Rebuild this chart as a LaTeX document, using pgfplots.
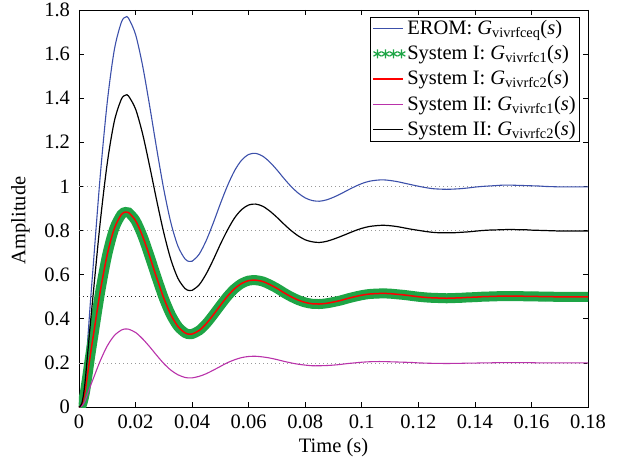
\documentclass[border=0pt]{standalone}
\usepackage{fontspec}
\setmainfont{Liberation Serif}
\usepackage{pgfplots}
\pgfplotsset{compat=1.18}
\usepackage{pgfplotstable}
\definecolor{mblue}{RGB}{60,80,170}
\definecolor{mgreen}{RGB}{30,165,70}
\definecolor{mred}{RGB}{255,0,0}
\definecolor{mmag}{RGB}{185,50,170}
\newcommand{\fsz}{\fontsize{20.5}{24}\selectfont}
\pgfplotsset{
  linelegend/.style={legend image code/.code={\draw[##1] (0pt,0pt) -- (30pt,0pt);}},
  starlegend/.style={legend image code/.code={\draw[##1] plot[only marks] coordinates {(4pt,0pt) (12pt,0pt) (20pt,0pt) (28pt,0pt)};}},
}

% t, EROM, System II c2, System I c1/c2, System II c1
\pgfplotstableread{
t g k h m
0 0 0 0 0
0.001 0.02 0.016 0.01 0.004
0.002 0.12 0.096 0.06 0.024
0.003 0.29 0.232 0.145 0.058
0.004 0.47 0.376 0.235 0.094
0.005 0.636 0.509 0.318 0.127
0.0075 1.046 0.837 0.523 0.209
0.010 1.383 1.106 0.692 0.277
0.0125 1.620 1.296 0.810 0.324
0.015 1.745 1.396 0.873 0.349
0.0165 1.768 1.414 0.884 0.354
0.0175 1.763 1.410 0.882 0.353
0.020 1.689 1.351 0.845 0.338
0.0225 1.547 1.238 0.774 0.309
0.025 1.364 1.091 0.682 0.273
0.0275 1.169 0.935 0.585 0.234
0.030 0.986 0.789 0.493 0.197
0.0325 0.835 0.668 0.418 0.167
0.035 0.729 0.583 0.365 0.146
0.0375 0.671 0.537 0.336 0.134
0.039 0.660 0.528 0.330 0.132
0.040 0.661 0.529 0.331 0.132
0.0425 0.693 0.554 0.347 0.139
0.045 0.755 0.604 0.378 0.151
0.0475 0.835 0.668 0.418 0.167
0.050 0.922 0.738 0.461 0.184
0.0525 1.003 0.802 0.502 0.201
0.055 1.071 0.857 0.536 0.214
0.0575 1.119 0.895 0.560 0.224
0.060 1.145 0.916 0.573 0.229
0.0625 1.150 0.920 0.575 0.230
0.065 1.137 0.910 0.569 0.227
0.0675 1.110 0.888 0.555 0.222
0.070 1.075 0.860 0.538 0.215
0.0725 1.036 0.829 0.518 0.207
0.075 1.000 0.800 0.500 0.200
0.0775 0.970 0.776 0.485 0.194
0.080 0.948 0.758 0.474 0.190
0.0825 0.936 0.749 0.468 0.187
0.085 0.933 0.746 0.467 0.187
0.0875 0.939 0.751 0.470 0.188
0.090 0.951 0.761 0.476 0.190
0.0925 0.966 0.773 0.483 0.193
0.095 0.983 0.786 0.492 0.197
0.0975 0.999 0.799 0.500 0.200
0.100 1.013 0.810 0.507 0.203
0.1025 1.023 0.818 0.512 0.205
0.105 1.028 0.822 0.514 0.206
0.1075 1.030 0.824 0.515 0.206
0.110 1.027 0.822 0.514 0.205
0.1125 1.022 0.818 0.511 0.204
0.115 1.015 0.812 0.508 0.203
0.1175 1.008 0.806 0.504 0.202
0.120 1.001 0.801 0.500 0.200
0.1225 0.995 0.796 0.497 0.199
0.125 0.990 0.792 0.495 0.198
0.1275 0.988 0.790 0.494 0.198
0.130 0.987 0.790 0.493 0.197
0.1325 0.988 0.790 0.494 0.198
0.135 0.990 0.792 0.495 0.198
0.1375 0.993 0.794 0.497 0.199
0.140 0.997 0.797 0.498 0.199
0.1425 1.000 0.800 0.500 0.200
0.145 1.002 0.802 0.501 0.200
0.1475 1.004 0.803 0.502 0.201
0.150 1.006 0.804 0.503 0.201
0.1525 1.006 0.805 0.503 0.201
0.155 1.005 0.804 0.503 0.201
0.1575 1.004 0.804 0.502 0.201
0.160 1.003 0.802 0.502 0.201
0.1625 1.002 0.801 0.501 0.200
0.165 1.000 0.800 0.500 0.200
0.1675 0.999 0.799 0.500 0.200
0.170 0.998 0.798 0.499 0.200
0.1725 0.998 0.798 0.499 0.200
0.175 0.998 0.798 0.499 0.200
0.1775 0.998 0.798 0.499 0.200
0.180 0.998 0.798 0.499 0.200
}\data

\begin{document}
\fsz
\begin{tikzpicture}
\begin{axis}[
  name=ax,
  scale only axis,
  width=509pt, height=397pt,
  xmin=0, xmax=0.18, ymin=0, ymax=1.8,
  xtick={0,0.02,0.04,0.06,0.08,0.1,0.12,0.14,0.16,0.18},
  ytick={0,0.2,0.4,0.6,0.8,1,1.2,1.4,1.6,1.8},
  scaled x ticks=false, scaled y ticks=false,
  /pgf/number format/.cd, fixed, precision=2, assume math mode=true, /pgfplots/.cd,
  clip marker paths=true,
  tick align=inside,
  major tick length=5pt,
  tick style={black, line width=0.6pt},
  axis line style={line width=0.7pt},
  ticklabel style={font=\fsz},
  yticklabel style={xshift=-2pt},
  xticklabel style={yshift=-1pt},
  label style={font=\fsz},
  xlabel={Time (s)},
  ylabel={Amplitude},
  xlabel style={at={(axis description cs:0.5,-0.103)}, anchor=center},
  ylabel style={at={(axis description cs:-0.115,0.47)}, anchor=center},
  legend style={at={(rel axis cs:0.984,0.983)}, anchor=north east,
    draw=black, font=\fsz, inner xsep=2pt, inner ysep=1pt,
    row sep=4pt, legend cell align=left},
  linelegend,
]
\addplot[gray!80, dash pattern=on 1pt off 3pt, line width=0.7pt, forget plot] coordinates {(0,1) (0.18,1)};
\addplot[gray!80, dash pattern=on 1pt off 3pt, line width=0.7pt, forget plot] coordinates {(0,0.8) (0.18,0.8)};
\addplot[black!85, dash pattern=on 1pt off 3pt, line width=0.7pt, forget plot] coordinates {(0,0.5) (0.18,0.5)};
\addplot[gray!80, dash pattern=on 1pt off 3pt, line width=0.7pt, forget plot] coordinates {(0,0.2) (0.18,0.2)};

\addplot[mblue, line width=1.1pt, smooth, mark=none] table[x=t, y=g] {\data};
\addlegendentry{EROM: \textit{G}\textsubscript{vivrfceq}(\textit{s})}

\addplot[mgreen, only marks, mark=asterisk, mark size=4.5pt, mark options={line width=1.2pt}, starlegend]
  table[x=t, y=h] {\data};
\addlegendentry{System I: \textit{G}\textsubscript{vivrfc1}(\textit{s})}
\addplot[mgreen, line width=10pt, smooth, mark=none, forget plot] table[x=t, y=h] {\data};

\addplot[color=mred, solid, line width=1.5pt, smooth, mark=none] table[x=t, y=h] {\data};
\addlegendentry{System I: \textit{G}\textsubscript{vivrfc2}(\textit{s})}

\addplot[mmag, line width=1.1pt, smooth, mark=none] table[x=t, y=m] {\data};
\addlegendentry{System II: \textit{G}\textsubscript{vivrfc1}(\textit{s})}

\addplot[black, line width=1.2pt, smooth, mark=none] table[x=t, y=k] {\data};
\addlegendentry{System II: \textit{G}\textsubscript{vivrfc2}(\textit{s})}
\end{axis}
\pgfresetboundingbox
\path[use as bounding box] ([shift={(-79pt,-59pt)}]ax.south west) rectangle ([shift={(35pt,10pt)}]ax.north east);
\end{tikzpicture}
\end{document}
